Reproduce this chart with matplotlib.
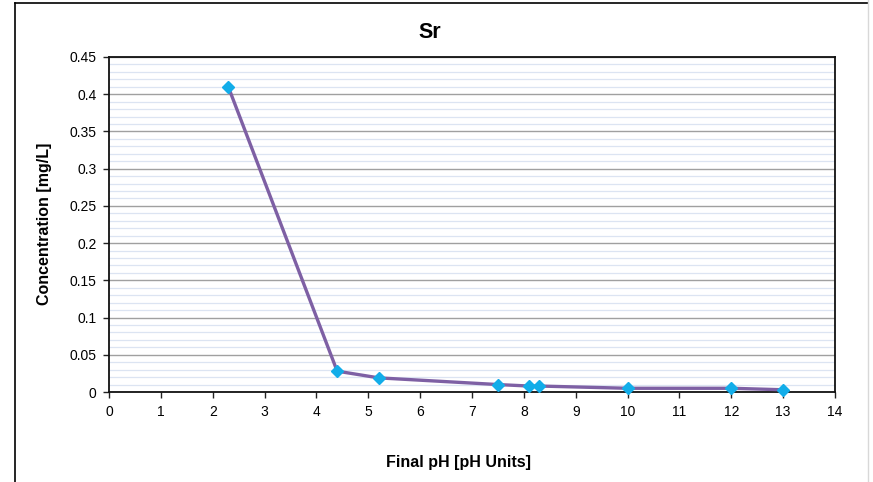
import matplotlib
matplotlib.use("Agg")
import matplotlib.pyplot as plt
from matplotlib.ticker import MultipleLocator
from matplotlib.lines import Line2D

plt.rcParams['font.family'] = ['Liberation Sans', 'DejaVu Sans']

ph = [2.3, 4.4, 5.2, 7.5, 8.1, 8.3, 10, 12, 13]
conc = [0.41, 0.028, 0.019, 0.010, 0.008, 0.008, 0.005, 0.005, 0.003]
title = "Sr"
xlabel = "Final pH [pH Units]"
ylabel = "Concentration [mg/L]"

W, H = 873, 482
fig = plt.figure(figsize=(W/100, H/100), dpi=100)
ax = fig.add_axes([109/W, 1-392/H, (835-109)/W, (392-57)/H])

ax.set_xlim(0, 14)
ax.set_ylim(0, 0.45)
ax.xaxis.set_major_locator(MultipleLocator(1))
ax.yaxis.set_major_locator(MultipleLocator(0.05))
ax.yaxis.set_minor_locator(MultipleLocator(0.01))
ax.yaxis.set_major_formatter(plt.FuncFormatter(lambda v, p: ('%g' % round(v, 2))))

ax.grid(axis='y', which='major', color='#A0A0A0', linewidth=1.0, zorder=1)
ax.grid(axis='y', which='minor', color='#DCE4F2', linewidth=0.9, zorder=0)
ax.tick_params(axis='y', which='minor', length=0)
ax.tick_params(axis='both', which='major', direction='out', length=4, width=1,
               labelsize=10, color='#222222')
ax.tick_params(axis='x', pad=5)
ax.tick_params(axis='y', pad=5)

for s in ax.spines.values():
    s.set_color('#111111')
    s.set_linewidth(1.3)

ax.plot(ph, conc, color='#7E60A4', linewidth=2.4, zorder=3,
        marker='D', markersize=6.5, markerfacecolor='#12ADE9', markeredgecolor='#12ADE9',
        clip_on=False)

fig.text(430/W, 1-32/H, title, fontsize=15.5, fontweight='bold', ha='center', va='center')
fig.text(458/W, 1-462/H, xlabel, fontsize=11.5, fontweight='bold', ha='center', va='center')
fig.text(45/W, 1-224/H, ylabel, fontsize=11.5, fontweight='bold', ha='center', va='center',
         rotation=90)

# outer chart border
fig.add_artist(Line2D([15/W, 15/W], [0, 1-3/H], transform=fig.transFigure,
                      color='black', linewidth=1.2))
fig.add_artist(Line2D([15/W, 868/W], [1-3/H, 1-3/H], transform=fig.transFigure,
                      color='black', linewidth=1.2))
fig.add_artist(Line2D([868/W, 868/W], [0, 1], transform=fig.transFigure,
                      color='#D8D8D8', linewidth=1.0))

fig.savefig('out.png', dpi=100)
